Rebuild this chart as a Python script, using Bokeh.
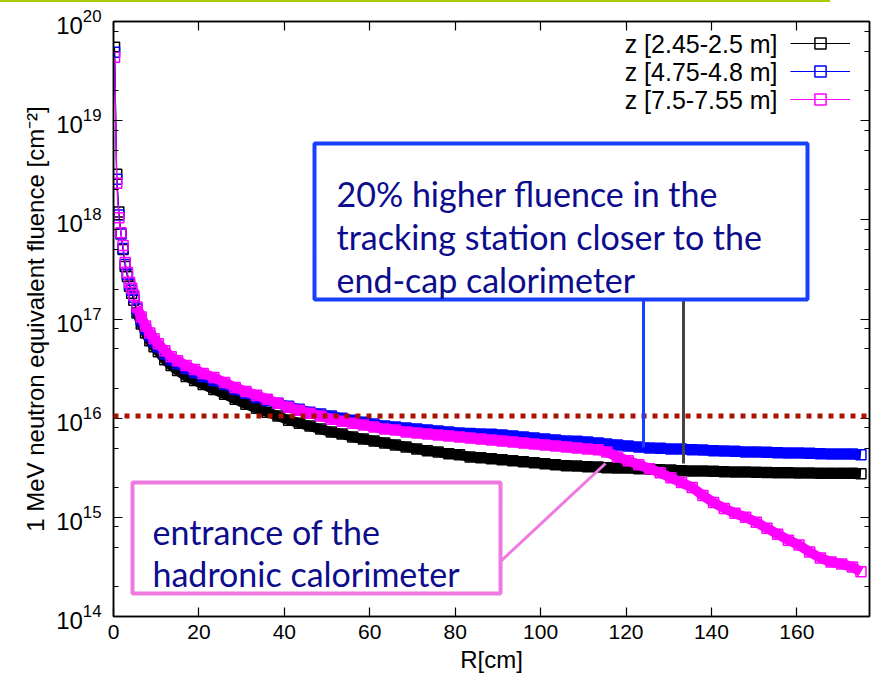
from bokeh.plotting import figure
from bokeh.models import (Range1d, FixedTicker, LinearAxis, LogAxis, Span, BoxAnnotation,
                          Label, Arrow, Legend, LegendItem, Div, ColumnDataSource,
                          CustomJSTickFormatter)
from bokeh.layouts import column
from bokeh.embed import file_html
from bokeh.resources import INLINE

# ---------------- data ----------------
R_cm = [0.25, 0.75, 1.25, 1.75, 2.25, 2.75, 3.25, 3.75, 4.25, 4.75,
        5.5, 6.5, 7.5, 8.5, 9.5, 10.5, 12, 13.5, 15, 17, 19, 21,
        23.5, 26, 28.5, 31, 33.5, 36, 38.5, 41, 43.5, 46, 48.5, 51, 53.5, 56, 58.5,
        61, 63.5, 66, 68.5, 71, 73.5, 76, 78.5, 81, 83.5, 86, 88.5, 91, 93.5, 96,
        98.5, 101, 103.5, 106, 108.5, 111, 113.5, 115.5,
        118, 120.5, 123, 125.5, 128, 130.5, 133, 135.5, 138, 140.5, 143, 145.5,
        148, 150.5, 153, 155.5, 158, 160.5, 163, 165.5, 168, 170.5, 173, 175]

fluence_z245 = [5.50e19, 2.88e18, 1.20e18, 7.24e17, 5.01e17, 3.39e17, 2.69e17, 2.14e17, 1.82e17, 1.55e17,
                1.15e17, 8.91e16, 7.24e16, 6.03e16, 5.25e16, 4.68e16, 3.89e16, 3.39e16, 3.02e16, 2.63e16, 2.40e16, 2.19e16,
                1.95e16, 1.74e16, 1.55e16, 1.38e16, 1.26e16, 1.15e16, 1.05e16, 9.55e15, 8.91e15, 8.32e15, 7.76e15, 7.24e15, 6.92e15, 6.46e15, 6.17e15,
                5.89e15, 5.62e15, 5.37e15, 5.13e15, 4.90e15, 4.68e15, 4.57e15, 4.37e15, 4.27e15, 4.07e15, 3.98e15, 3.89e15, 3.80e15, 3.72e15, 3.63e15,
                3.55e15, 3.47e15, 3.39e15, 3.31e15, 3.30e15, 3.24e15, 3.22e15, 3.16e15,
                3.15e15, 3.14e15, 3.09e15, 3.08e15, 3.02e15, 3.00e15, 2.95e15, 2.94e15, 2.93e15, 2.92e15, 2.88e15, 2.87e15,
                2.86e15, 2.85e15, 2.84e15, 2.82e15, 2.81e15, 2.80e15, 2.80e15, 2.79e15, 2.79e15, 2.78e15, 2.78e15, 2.75e15]

fluence_z475 = [4.90e19, 2.57e18, 1.12e18, 7.24e17, 5.13e17, 3.55e17, 2.82e17, 2.24e17, 1.95e17, 1.66e17,
                1.26e17, 9.77e16, 7.94e16, 6.76e16, 5.89e16, 5.25e16, 4.47e16, 3.89e16, 3.55e16, 3.16e16, 2.88e16, 2.63e16,
                2.40e16, 2.19e16, 1.95e16, 1.78e16, 1.62e16, 1.51e16, 1.41e16, 1.32e16, 1.23e16, 1.15e16, 1.10e16, 1.05e16, 1.00e16, 9.55e15, 9.12e15,
                8.71e15, 8.32e15, 8.13e15, 7.94e15, 7.76e15, 7.59e15, 7.41e15, 7.24e15, 7.08e15, 7.00e15, 6.92e15, 6.90e15, 6.76e15, 6.61e15, 6.46e15,
                6.31e15, 6.17e15, 6.03e15, 5.89e15, 5.85e15, 5.75e15, 5.62e15, 5.50e15,
                5.37e15, 5.25e15, 5.13e15, 5.01e15, 4.98e15, 4.90e15, 4.88e15, 4.79e15, 4.77e15, 4.68e15, 4.66e15, 4.65e15,
                4.57e15, 4.55e15, 4.54e15, 4.47e15, 4.46e15, 4.45e15, 4.44e15, 4.37e15, 4.36e15, 4.35e15, 4.34e15, 4.27e15]

fluence_z750 = [4.37e19, 2.34e18, 1.05e18, 7.41e17, 5.50e17, 3.72e17, 2.95e17, 2.34e17, 2.04e17, 1.74e17,
                1.32e17, 1.05e17, 8.51e16, 7.24e16, 6.31e16, 5.62e16, 4.79e16, 4.17e16, 3.80e16, 3.39e16, 3.09e16, 2.82e16,
                2.57e16, 2.29e16, 2.04e16, 1.86e16, 1.70e16, 1.55e16, 1.41e16, 1.29e16, 1.20e16, 1.12e16, 1.05e16, 9.77e15, 9.33e15, 8.91e15, 8.51e15,
                8.13e15, 7.76e15, 7.59e15, 7.24e15, 7.08e15, 6.92e15, 6.76e15, 6.61e15, 6.46e15, 6.31e15, 6.17e15, 6.03e15, 5.89e15, 5.75e15, 5.62e15,
                5.50e15, 5.37e15, 5.25e15, 5.13e15, 5.01e15, 4.90e15, 4.79e15, 4.57e15,
                4.07e15, 3.72e15, 3.39e15, 3.09e15, 2.82e15, 2.51e15, 2.24e15, 2.00e15, 1.66e15, 1.41e15, 1.23e15, 1.10e15,
                1.00e15, 8.91e14, 7.76e14, 6.76e14, 5.89e14, 5.25e14, 4.47e14, 3.89e14, 3.55e14, 3.39e14, 3.16e14, 2.82e14]

series_labels = ["z [2.45-2.5 m]", "z [4.75-4.8 m]", "z [7.5-7.55 m]"]
series_colors = ["#000000", "#0000ff", "#ff00ff"]
threshold = 1.05e16
x_ticks = [0, 20, 40, 60, 80, 100, 120, 140, 160]
y_major = [1e14, 1e15, 1e16, 1e17, 1e18, 1e19, 1e20]
y_minor = [m * d for d in [1e14, 1e15, 1e16, 1e17, 1e18, 1e19] for m in (2, 5, 8)]
x_label = "R[cm]"
y_label = "1 MeV neutron equivalent fluence [cm\u207b\u00b2]"
box1_lines = ["20% higher fluence in the", "tracking station closer to the", "end-cap calorimeter"]
box2_lines = ["entrance of the", "hadronic calorimeter"]

# ---------------- layout helpers (page pixels -> data) ----------------
XMIN, XMAX = 0, 177
FL, FR, FT, FB = 113, 869, 21, 616   # frame edges in page pixels


def dx(px):
    return XMIN + (px - FL) / (FR - FL) * (XMAX - XMIN)


def dy(py):
    return 10 ** (20 - (py - FT) / (FB - FT) * 6)


STRIPE = 2
p = figure(width=875, height=683 - STRIPE, x_range=Range1d(XMIN, XMAX), y_range=Range1d(1e14, 1e20),
           y_axis_type="log", output_backend="svg", toolbar_location=None,
           min_border_left=FL, min_border_right=875 - FR, min_border_top=FT - STRIPE,
           min_border_bottom=683 - FB)
p.xgrid.visible = False
p.ygrid.visible = False
p.outline_line_color = "black"
p.outline_line_width = 1.5
p.background_fill_color = "white"
p.border_fill_color = "white"

AX_FONT = "Liberation Sans"
xt = FixedTicker(ticks=x_ticks)
yt = FixedTicker(ticks=y_major, minor_ticks=y_minor)

xa = p.xaxis[0]
xa.ticker = xt
xa.axis_label = x_label
ya = p.yaxis[0]
ya.ticker = yt
ya.axis_label = y_label
for ax in (xa, ya):
    ax.axis_line_width = 1.5
    ax.major_tick_in = 9
    ax.major_tick_out = 0
    ax.minor_tick_in = 5
    ax.minor_tick_out = 0
    ax.major_tick_line_width = 1.2
    ax.minor_tick_line_width = 1.2
    ax.major_label_text_font = AX_FONT
    ax.major_label_text_color = "black"
    ax.axis_label_text_font = AX_FONT
    ax.axis_label_text_font_style = "normal"
    ax.axis_label_text_color = "black"
xa.major_label_text_font_size = "21px"
ya.major_label_text_font_size = "24px"
xa.axis_label_text_font_size = "24px"
ya.axis_label_text_font_size = "24px"
xa.minor_tick_line_color = None
xa.major_label_standoff = 8
xa.axis_label_standoff = 4
ya.major_label_standoff = 12
ya.axis_label_standoff = 4

blank = CustomJSTickFormatter(code="return ''")
top_ax = LinearAxis(ticker=xt, formatter=blank, major_tick_in=9, major_tick_out=0,
                    minor_tick_line_color=None, major_label_standoff=0,
                    major_label_text_font_size="1px", axis_line_width=1.5, major_tick_line_width=1.2)
right_ax = LogAxis(ticker=yt, formatter=blank, major_tick_in=9, major_tick_out=0,
                   minor_tick_in=5, minor_tick_out=0, major_label_standoff=0,
                   major_label_text_font_size="1px", axis_line_width=1.5,
                   major_tick_line_width=1.2, minor_tick_line_width=1.2)
p.add_layout(top_ax, "above")
p.add_layout(right_ax, "right")

# ---------------- data glyphs ----------------
legend_items = []
for vals, col, lab in zip([fluence_z245, fluence_z475, fluence_z750], series_colors, series_labels):
    src = ColumnDataSource(dict(R=R_cm, F=vals))
    band = ColumnDataSource(dict(R=R_cm[10:], F=vals[10:]))
    p.line("R", "F", source=band, line_color=col, line_width=10)
    thin = p.line("R", "F", source=src, line_color=col, line_width=1.2)
    sq = p.scatter("R", "F", source=src, marker="square", size=10, fill_color=None,
                   line_color=col, line_width=1.5)
    legend_items.append(LegendItem(label=" ", renderers=[thin, sq]))

legend = Legend(items=legend_items, location=(790 - FL, FB - 113), glyph_width=60, glyph_height=28,
                label_width=0, label_height=28, label_standoff=0, padding=0, margin=0, spacing=0,
                border_line_color=None, background_fill_alpha=0, label_text_font_size="1px")
p.add_layout(legend)

for i, lab in enumerate(series_labels):
    p.add_layout(Label(x=dx(777), y=dy(43 + 28 * i), text=lab, text_align="right",
                       text_baseline="middle", text_font=AX_FONT, text_font_size="25px",
                       text_color="black"))

# ---------------- threshold line ----------------
p.add_layout(Span(location=threshold, dimension="width", line_color="#aa1100",
                  line_width=5, line_dash="5 6"))

# ---------------- annotations ----------------
BLUE = "#1a40ff"
PINK = "#ee7ae0"
NAVY = "#0c0c8c"
TXT_FONT = "Lato"

p.add_layout(Arrow(end=None, x_start=dx(643), y_start=dy(299), x_end=dx(643), y_end=dy(447),
                   line_color=BLUE, line_width=3))
p.add_layout(Arrow(end=None, x_start=dx(683), y_start=dy(299), x_end=dx(683), y_end=dy(463),
                   line_color="#444444", line_width=3))
p.add_layout(Arrow(end=None, x_start=dx(500), y_start=dy(561), x_end=dx(605), y_end=dy(463),
                   line_color=PINK, line_width=3))

p.add_layout(BoxAnnotation(left=dx(314), right=dx(807), top=dy(143), bottom=dy(299),
                           fill_color="white", fill_alpha=1, line_color=BLUE, line_width=4,
                           line_alpha=1))
p.add_layout(BoxAnnotation(left=dx(132), right=dx(500), top=dy(482), bottom=dy(593),
                           fill_color="white", fill_alpha=1, line_color=PINK, line_width=4,
                           line_alpha=1))

for i, t in enumerate(box1_lines):
    p.add_layout(Label(x=dx(336), y=dy(193 + 43 * i), text=t, text_align="left",
                       text_baseline="alphabetic", text_font=TXT_FONT, text_font_size="34px",
                       text_color=NAVY))
for i, t in enumerate(box2_lines):
    p.add_layout(Label(x=dx(152), y=dy(531 + 42 * i), text=t, text_align="left",
                       text_baseline="alphabetic", text_font=TXT_FONT, text_font_size="34px",
                       text_color=NAVY))

stripe = Div(text="", width=830, height=STRIPE, margin=0,
             styles={"background-color": "#a8cc00"})
layout = column(stripe, p, spacing=0)

open("out.html", "w").write(file_html(layout, INLINE))
